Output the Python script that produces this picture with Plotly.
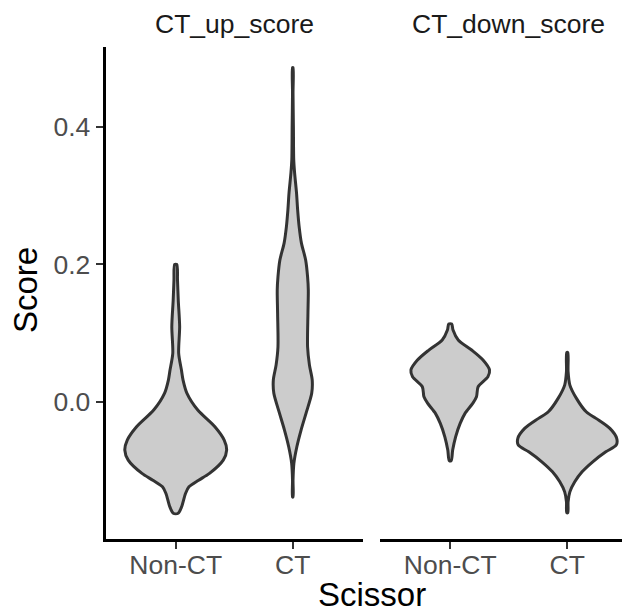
import plotly.graph_objects as go

# ---- data ----
panels = ["CT_up_score", "CT_down_score"]
groups = ["Non-CT", "CT"]
y_ticks = [0.0, 0.2, 0.4]
y_tick_labels = ["0.0", "0.2", "0.4"]

# violin density profiles: score levels (top -> bottom) and relative width (max = 1)
up_noct_score = [0.200, 0.177, 0.148, 0.1095, 0.0708, 0.0465, 0.032, 0.0127, -0.0116, -0.0359,
                 -0.0553, -0.0698, -0.0844, -0.1037, -0.1135, -0.1232, -0.1328, -0.1523, -0.1615]
up_noct_dens = [0.02, 0.035, 0.05, 0.077, 0.058, 0.112, 0.144, 0.221, 0.433, 0.769,
                0.952, 1.0, 0.933, 0.663, 0.45, 0.26, 0.192, 0.115, 0.048]

up_ct_score = [0.486, 0.449, 0.400, 0.352, 0.333, 0.3036, 0.279, 0.255, 0.231, 0.2065, 0.182,
               0.163, 0.129, 0.080, 0.054, 0.032, 0.0127, -0.0164, -0.0407, -0.065, -0.089,
               -0.1135, -0.138]
up_ct_dens = [0.005, 0.005, 0.0125, 0.019, 0.036, 0.074, 0.096, 0.125, 0.17, 0.253, 0.291,
              0.305, 0.298, 0.291, 0.327, 0.382, 0.372, 0.26, 0.163, 0.08, 0.022,
              0.005, 0.005]

down_noct_score = [0.1135, 0.1047, 0.0902, 0.0756, 0.0611, 0.0465, 0.0368, 0.0223, 0.0077,
                   -0.0019, -0.0164, -0.031, -0.0505, -0.0698, -0.085]
down_noct_dens = [0.029, 0.055, 0.157, 0.42, 0.644, 0.772, 0.74, 0.548, 0.516,
                  0.442, 0.291, 0.195, 0.106, 0.048, 0.019]

down_ct_score = [0.072, 0.0441, 0.0247, 0.0054, -0.0141, -0.0237, -0.0383, -0.0528, -0.0625,
                 -0.0723, -0.0868, -0.1014, -0.1159, -0.1305, -0.145, -0.1607]
down_ct_dens = [0.01, 0.016, 0.051, 0.18, 0.372, 0.564, 0.837, 0.971, 0.962,
                0.757, 0.5, 0.291, 0.147, 0.051, 0.016, 0.01]

violins = [
    ("x", "y", 1, up_noct_score, up_noct_dens),
    ("x", "y", 2, up_ct_score, up_ct_dens),
    ("x2", "y2", 1, down_noct_score, down_noct_dens),
    ("x2", "y2", 2, down_ct_score, down_ct_dens),
]

MAX_WIDTH = 0.87  # full width (category units) of the widest violin (path centre)

# page body has an 8px margin: figure is placed at (8, 8) in the window
OFF = 8
W, H = 630 - OFF, 613 - OFF
# layout positions in window pixels
L_X0, L_X1 = 105.5, 363
R_X0 = 380
TOP, BOT = 47, 539
px_per_unit = (L_X1 - L_X0) / 2.2


def fx(px):
    return (px - OFF) / W


ph = BOT - TOP


def fy(py):
    return (BOT - py) / ph


FONT = "Liberation Sans, Arial, sans-serif"

fig = go.Figure()
for xa, ya, pos, sc, de in violins:
    hw = [d * MAX_WIDTH / 2 for d in de]
    xs = [pos + h for h in hw] + [pos - h for h in reversed(hw)]
    ys = list(sc) + list(reversed(sc))
    xs.append(xs[0]); ys.append(ys[0])
    fig.add_trace(go.Scatter(
        x=xs, y=ys, xaxis=xa, yaxis=ya, mode="lines", fill="toself",
        fillcolor="#CCCCCC", line=dict(color="#333333", width=3, shape="spline", smoothing=0.8),
        showlegend=False, hoverinfo="skip"))

tickfont = dict(family=FONT, size=26.5, color="#4D4D4D")
xcommon = dict(tickvals=[1, 2], ticktext=groups, showline=True, linecolor="black", linewidth=2.8,
               ticks="outside", ticklen=7, tickwidth=2, tickcolor="#333333", showgrid=False,
               zeroline=False, tickfont=tickfont, automargin=False, ticklabelstandoff=-7)

fig.update_layout(
    width=W, height=H,
    margin=dict(l=0, r=0, t=TOP - OFF, b=H - (BOT - OFF)),
    paper_bgcolor="white", plot_bgcolor="white",
    xaxis=dict(domain=[fx(L_X0), fx(L_X1)], range=[0.4, 2.6], anchor="y", **xcommon),
    xaxis2=dict(domain=[fx(R_X0), 1.0], range=[0.4, 0.4 + (630 - R_X0) / px_per_unit], anchor="y2", **xcommon),
    yaxis=dict(range=[-0.199, 0.516], tickvals=y_ticks, ticktext=y_tick_labels, showline=True,
               linecolor="black", linewidth=2.8, ticks="outside", ticklen=7, tickwidth=2,
               tickcolor="#333333", showgrid=False, zeroline=False, tickfont=tickfont,
               automargin=False, anchor="x"),
    yaxis2=dict(range=[-0.199, 0.516], matches="y", showticklabels=False, showline=False,
                ticks="", showgrid=False, zeroline=False, anchor="x2"),
    font=dict(family=FONT),
)

annos = [
    dict(text=panels[0], x=fx((L_X0 + L_X1) / 2), y=fy(24), font=dict(size=26.5, color="#1A1A1A", family=FONT)),
    dict(text=panels[1], x=fx((R_X0 + R_X0 + (L_X1 - L_X0)) / 2), y=fy(24), font=dict(size=26.5, color="#1A1A1A", family=FONT)),
    dict(text="Scissor", x=fx((L_X0 + R_X0 + (L_X1 - L_X0)) / 2), y=fy(594), font=dict(size=33, color="black", family=FONT)),
    dict(text="Score", x=fx(25), y=fy(290), textangle=-90, font=dict(size=33, color="black", family=FONT)),
]
for a in annos:
    fig.add_annotation(xref="paper", yref="paper", showarrow=False, xanchor="center", yanchor="middle", **a)

fig.write_html("out.html")
